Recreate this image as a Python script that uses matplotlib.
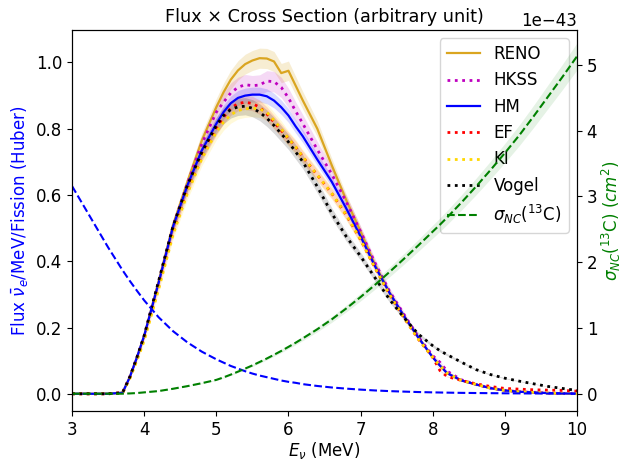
import numpy as np
import matplotlib
matplotlib.use("Agg")
import matplotlib.pyplot as plt

plt.rcParams['font.size'] = 12

E = [3.0, 3.5, 3.7, 3.8, 3.9, 4.0, 4.2, 4.4, 4.6, 4.8, 5.0, 5.1, 5.2, 5.3, 5.4, 5.5,
     5.6, 5.7, 5.8, 5.9, 6.0, 6.1, 6.2, 6.4, 6.6, 6.8, 7.0, 7.2, 7.4, 7.6, 7.8, 8.0,
     8.1, 8.2, 8.4, 8.6, 8.8, 9.0, 9.2, 9.4, 9.6, 9.8, 10.0]

reno = [0, 0, 0.003, 0.05, 0.11, 0.175, 0.34, 0.51, 0.64, 0.765, 0.865, 0.91, 0.948, 0.976,
        0.995, 1.006, 1.013, 1.012, 1.003, 0.968, 0.975, 0.93, 0.885, 0.80, 0.69, 0.585,
        0.49, 0.39, 0.305, 0.235, 0.17, 0.11, 0.085, 0.062, 0.04, 0.028, 0.017, 0.010,
        0.006, 0.004, 0.002, 0.001, 0.0]
hkss = [0, 0, 0.003, 0.05, 0.11, 0.175, 0.338, 0.505, 0.635, 0.755, 0.85, 0.88, 0.908, 0.925,
        0.933, 0.93, 0.932, 0.944, 0.942, 0.925, 0.893, 0.853, 0.815, 0.737, 0.663, 0.58,
        0.49, 0.395, 0.31, 0.24, 0.172, 0.115, 0.095, 0.068, 0.042, 0.028, 0.017, 0.010,
        0.006, 0.004, 0.002, 0.001, 0.0]
hm = [0, 0, 0.003, 0.05, 0.11, 0.175, 0.335, 0.505, 0.63, 0.735, 0.815, 0.85, 0.877, 0.893,
      0.9, 0.903, 0.903, 0.898, 0.885, 0.865, 0.84, 0.807, 0.777, 0.707, 0.64, 0.56,
      0.475, 0.385, 0.305, 0.235, 0.17, 0.11, 0.085, 0.062, 0.04, 0.028, 0.017, 0.010,
      0.006, 0.004, 0.002, 0.001, 0.0]
ef = [0, 0, 0.003, 0.048, 0.105, 0.168, 0.325, 0.49, 0.615, 0.72, 0.80, 0.835, 0.862, 0.876,
      0.88, 0.876, 0.865, 0.845, 0.82, 0.795, 0.77, 0.745, 0.715, 0.66, 0.605, 0.54,
      0.465, 0.38, 0.30, 0.23, 0.165, 0.11, 0.07, 0.052, 0.04, 0.03, 0.022, 0.016,
      0.014, 0.012, 0.011, 0.01, 0.008]
ki = [0, 0, 0.002, 0.045, 0.10, 0.16, 0.315, 0.48, 0.605, 0.71, 0.79, 0.82, 0.842, 0.855,
      0.86, 0.862, 0.86, 0.85, 0.825, 0.80, 0.77, 0.745, 0.715, 0.66, 0.605, 0.54,
      0.465, 0.38, 0.30, 0.23, 0.165, 0.11, 0.085, 0.062, 0.04, 0.028, 0.017, 0.010,
      0.006, 0.004, 0.002, 0.001, 0.0]
vogel = [0, 0, 0.003, 0.05, 0.11, 0.175, 0.34, 0.505, 0.63, 0.73, 0.81, 0.84, 0.858, 0.866,
         0.868, 0.862, 0.85, 0.832, 0.81, 0.785, 0.76, 0.73, 0.70, 0.625, 0.545, 0.475,
         0.415, 0.35, 0.285, 0.23, 0.18, 0.145, 0.13, 0.118, 0.095, 0.073, 0.058, 0.047,
         0.038, 0.03, 0.022, 0.016, 0.01]
flux_huber = [0.627, 0.442, 0.373, 0.341, 0.311, 0.282, 0.231, 0.189, 0.155, 0.127, 0.104,
              0.094, 0.084, 0.076, 0.068, 0.061, 0.055, 0.05, 0.045, 0.04, 0.036, 0.033,
              0.029, 0.0235, 0.019, 0.0155, 0.0125, 0.010, 0.008, 0.0065, 0.0052, 0.0042,
              0.0038, 0.0034, 0.0027, 0.0022, 0.0018, 0.0014, 0.0011, 0.0009, 0.0007,
              0.0006, 0.0005]
sigma_nc = [0, 0, 0.0, 0.004, 0.01, 0.02, 0.04, 0.075, 0.115, 0.16, 0.21, 0.248, 0.29, 0.335,
            0.382, 0.43, 0.482, 0.535, 0.592, 0.65, 0.712, 0.775, 0.842, 0.98, 1.13, 1.295,
            1.47, 1.655, 1.85, 2.05, 2.255, 2.465, 2.57, 2.68, 2.91, 3.15, 3.40, 3.66,
            3.93, 4.22, 4.52, 4.82, 5.13]  # units of 1e-43 cm^2

# relative band widths
rel_unc = {'RENO': 0.03, 'HKSS': 0.033, 'HM': 0.025, 'EF': 0.025, 'KI': 0.03, 'Vogel': 0.03}
sigma_rel_unc = 0.04

E = np.array(E)
fig = plt.figure(figsize=(6.23, 4.59), dpi=100)
ax = fig.add_axes([0.1156, 0.1046, 0.8106, 0.830])

models = [
    ('RENO', reno, 'goldenrod', '-', 0.2),
    ('HKSS', hkss, 'm', ':', 0.15),
    ('HM', hm, 'b', '-', 0.15),
    ('EF', ef, 'r', ':', 0.15),
    ('KI', ki, 'gold', ':', 0.15),
    ('Vogel', vogel, 'k', ':', 0.15),
]
handles = []
for name, vals, col, ls, alpha in models:
    v = np.array(vals)
    ax.fill_between(E, v * (1 - rel_unc[name]), v * (1 + rel_unc[name]),
                    color=col, alpha=alpha, lw=0)
    h, = ax.plot(E, v, color=col, ls=ls, lw=1.6 if ls == '-' else 2, label=name)
    handles.append(h)

ax.plot(E, flux_huber, color='b', ls='--', lw=1.5)

ax.set_xlim(3, 10)
ax.set_ylim(-0.052, 1.098)
ax.set_xlabel(r'$E_{\nu}$ (MeV)', labelpad=1)
ax.set_ylabel(r'Flux $\bar{\nu}_e$/MeV/Fission (Huber)', color='b')
ax.set_title(u'Flux \u00d7 Cross Section (arbitrary unit)', fontsize=12.7)

ax2 = ax.twinx()
s = np.array(sigma_nc) * 1e-43
ax2.fill_between(E, s * (1 - sigma_rel_unc), s * (1 + sigma_rel_unc), color='g', alpha=0.1, lw=0)
hs, = ax2.plot(E, s, color='g', ls='--', lw=1.5, label=r'$\sigma_{NC}$($^{13}$C)')
handles.append(hs)
ax2.set_ylim(-0.263e-43, 5.53e-43)
ax2.set_ylabel(r'$\sigma_{NC}$($^{13}$C) $(cm^2)$', color='g', labelpad=2)

ax.legend(handles=handles, loc='upper right', fontsize=12)

fig.savefig('out.png', dpi=100)
